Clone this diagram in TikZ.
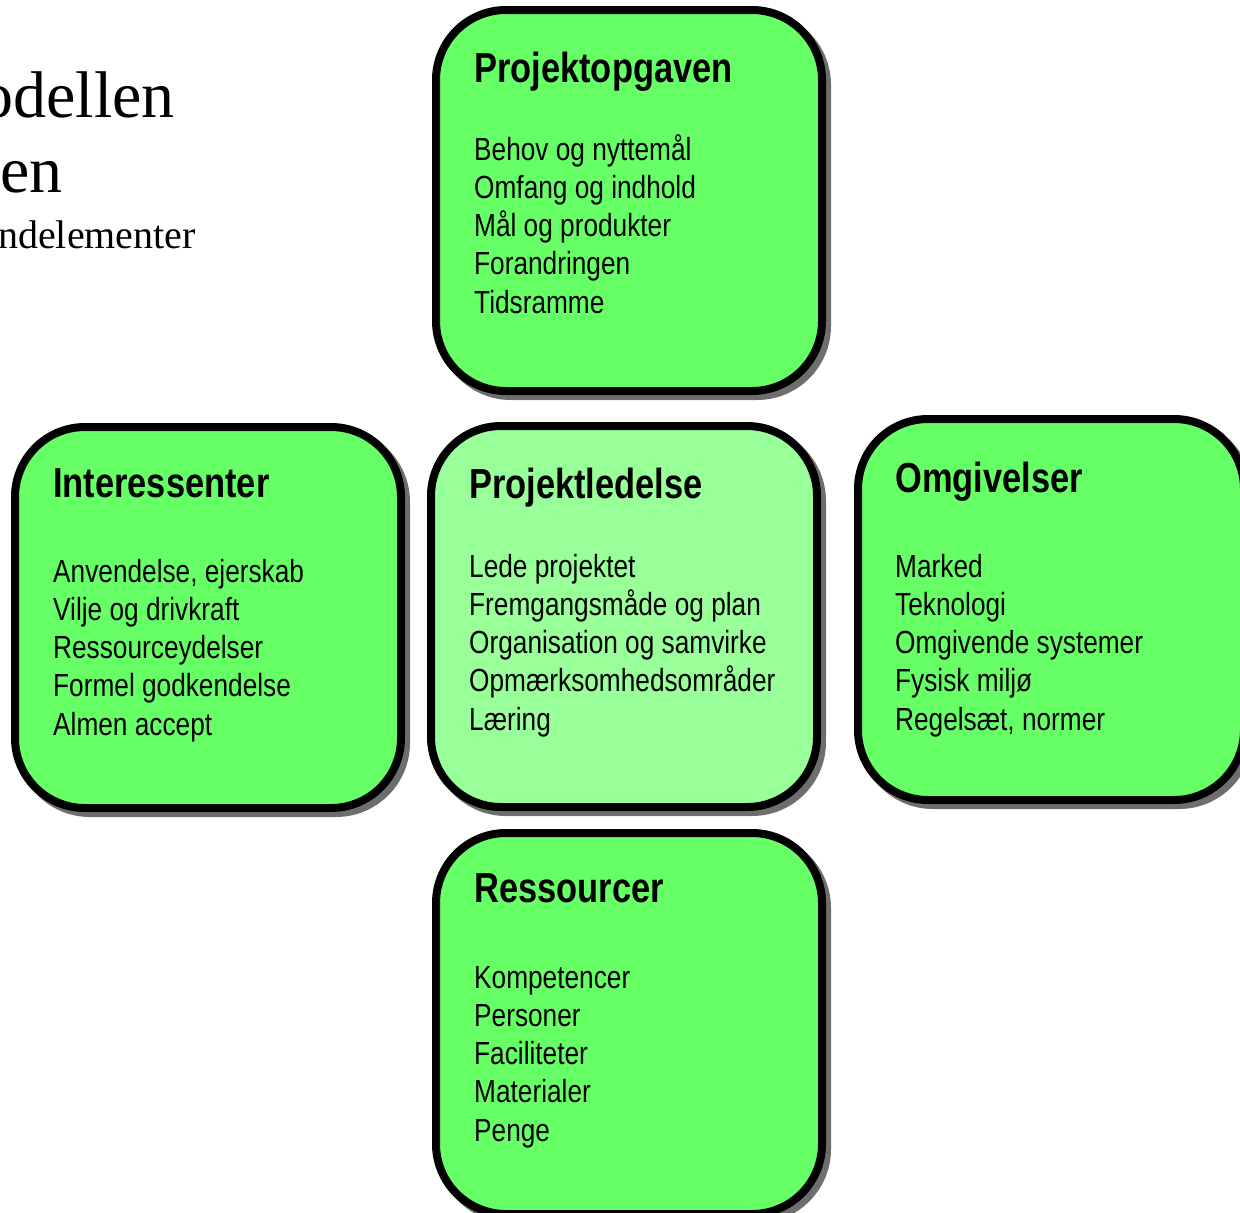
\documentclass[tikz,border=0pt]{standalone}
\usepackage{fontspec}
\setmainfont{Liberation Serif}
\newfontfamily\narrowsans{Liberation Sans}[FakeStretch=0.82]
\usetikzlibrary{shadows}
\definecolor{boxgreen}{HTML}{66FF66}
\definecolor{coregreen}{HTML}{99FF99}
\definecolor{shadowgray}{HTML}{6E6E6E}
\begin{document}
\begin{tikzpicture}[x=1pt,y=-1pt,
  panel/.style={rectangle, draw=black, line width=8pt, rounded corners=70pt,
    fill=boxgreen, anchor=north west, minimum width=386pt, minimum height=381pt,
    inner sep=0pt, outer sep=0pt,
    drop shadow={shadow xshift=5pt, shadow yshift=-5pt, fill=shadowgray,
      draw=shadowgray, line width=8pt, opacity=1}},
  heading/.style={anchor=base west, inner sep=0pt,
    font=\narrowsans\bfseries\fontsize{42}{50}\selectfont},
  % five-line lists: the base anchor sits on the last line, 4 x 38.3 below the first
  items/.style={anchor=base west, inner sep=0pt, align=left, yshift=-153.2pt,
    font=\narrowsans\fontsize{32}{38.3}\selectfont},
  title/.style={anchor=base east, inner sep=0pt}
]
\useasboundingbox (0,0) rectangle (1240,1213);

% title lines, cut by the page edge
\node[title, font=\fontsize{66}{70}\selectfont] (t1) at (175,117) {odellen};
\node[title, font=\fontsize{66}{70}\selectfont] (t2) at (63,192) {en};
\node[title, font=\fontsize{40}{44}\selectfont] (t3) at (196,248) {ndelementer};

% the five panels
\node[panel] (opgave) at (436,10) {};
\node[panel] (interessenter) at (15,427) {};
\node[panel, fill=coregreen] (ledelse) at (431,426) {};
\node[panel] (omgivelser) at (858,419) {};
\node[panel] (ressourcer) at (436,833) {};

% panel texts
\node[heading] (opgaveH) at (474,82) {Projektopgaven};
\node[items] (opgaveL) at (474,160) {Behov og nyttemål\\Omfang og indhold\\Mål og produkter\\Forandringen\\Tidsramme};

\node[heading] (interH) at (53,497) {Interessenter};
\node[items] (interL) at (53,582) {Anvendelse, ejerskab\\Vilje og drivkraft\\Ressourceydelser\\Formel godkendelse\\Almen accept};

\node[heading] (ledH) at (469,498) {Projektledelse};
\node[items] (ledL) at (469,577) {Lede projektet\\Fremgangsmåde og plan\\Organisation og samvirke\\Opmærksomhedsområder\\Læring};

\node[heading] (omgH) at (895,492) {Omgivelser};
\node[items] (omgL) at (895,577) {Marked\\Teknologi\\Omgivende systemer\\Fysisk miljø\\Regelsæt, normer};

\node[heading] (resH) at (474,902) {Ressourcer};
\node[items] (resL) at (474,988) {Kompetencer\\Personer\\Faciliteter\\Materialer\\Penge};
\end{tikzpicture}
\end{document}
